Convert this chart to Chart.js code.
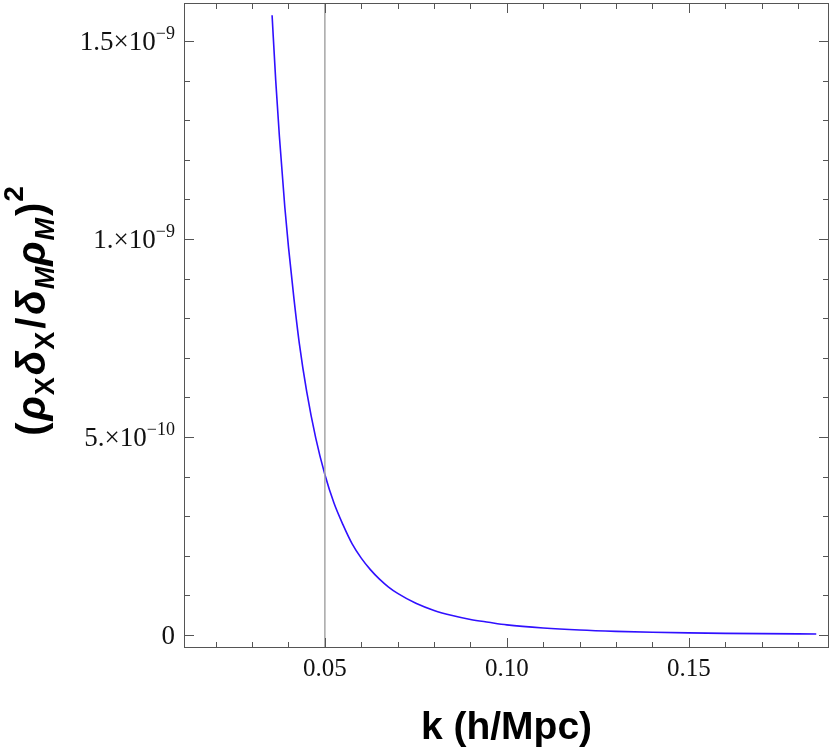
<!DOCTYPE html>
<html>
<head>
<meta charset="utf-8">
<script src="https://cdn.jsdelivr.net/npm/chart.js@4.4.1/dist/chart.umd.min.js"></script>
<style>
  html, body { margin: 0; padding: 0; background: #fff; }
  #wrap { width: 830px; height: 754px; position: relative; }
</style>
</head>
<body>
<div id="wrap"><canvas id="chart"></canvas></div>
<script>
// values
const kValues = [0.0355, 0.0365, 0.0375, 0.039, 0.040, 0.0415, 0.043, 0.045, 0.0475, 0.050,
                 0.0525, 0.055, 0.0575, 0.060, 0.0625, 0.065, 0.0675, 0.070, 0.075, 0.080,
                 0.085, 0.090, 0.095, 0.100, 0.110, 0.120, 0.130, 0.140, 0.150, 0.160,
                 0.170, 0.185];
const ratioValues = [15.65e-10, 14.0e-10, 12.6e-10, 10.8e-10, 9.8e-10, 8.5e-10, 7.35e-10, 6.15e-10, 4.97e-10, 4.05e-10,
                     3.33e-10, 2.78e-10, 2.30e-10, 1.94e-10, 1.65e-10, 1.41e-10, 1.21e-10, 1.05e-10, 0.80e-10, 0.62e-10,
                     0.49e-10, 0.39e-10, 0.32e-10, 0.255e-10, 0.175e-10, 0.123e-10, 0.090e-10, 0.068e-10, 0.052e-10, 0.040e-10,
                     0.032e-10, 0.023e-10];

const markerK = 0.05;

const xMajorTicks = [0.05, 0.10, 0.15];
const xTickLabels = ['0.05', '0.10', '0.15'];
const xMinorTicks = [0.02, 0.03, 0.04, 0.06, 0.07, 0.08, 0.09, 0.11, 0.12, 0.13, 0.14, 0.16, 0.17, 0.18];

const yMajorTicks = [0, 5e-10, 1e-9, 1.5e-9];
const yTickMantissa = ['0', '5.', '1.', '1.5'];
const yTickExponent = ['', '\u221210', '\u22129', '\u22129'];
const yMinorTicks = [1e-10, 2e-10, 3e-10, 4e-10, 6e-10, 7e-10, 8e-10, 9e-10, 1.1e-9, 1.2e-9, 1.3e-9, 1.4e-9];

const xMin = 0.0113, xMax = 0.1885;
const yMin = -0.33e-10, yMax = 1.596e-9;

const serif = "'Liberation Serif', 'DejaVu Serif', serif";
const sans = "'Liberation Sans', Arial, sans-serif";

// frame, inward ticks, tick labels and axis titles
const framePlugin = {
    id: 'frame',
    afterDraw(chart) {
        const { ctx, chartArea: a, scales } = chart;
        const xs = scales.x, ys = scales.y;
        ctx.save();
        ctx.strokeStyle = '#555';
        ctx.lineWidth = 1;
        ctx.strokeRect(a.left + 0.5, a.top + 0.5, a.right - a.left - 1, a.bottom - a.top - 1);

        const tick = (x1, y1, x2, y2) => {
            ctx.beginPath();
            ctx.moveTo(x1, y1);
            ctx.lineTo(x2, y2);
            ctx.stroke();
        };
        xMajorTicks.forEach(v => {
            const px = Math.round(xs.getPixelForValue(v)) + 0.5;
            tick(px, a.bottom, px, a.bottom - 10);
            tick(px, a.top, px, a.top + 10);
        });
        xMinorTicks.forEach(v => {
            const px = Math.round(xs.getPixelForValue(v)) + 0.5;
            tick(px, a.bottom, px, a.bottom - 6);
            tick(px, a.top, px, a.top + 6);
        });
        yMajorTicks.forEach(v => {
            const py = Math.round(ys.getPixelForValue(v)) + 0.5;
            tick(a.left, py, a.left + 10, py);
            tick(a.right, py, a.right - 10, py);
        });
        yMinorTicks.forEach(v => {
            const py = Math.round(ys.getPixelForValue(v)) + 0.5;
            tick(a.left, py, a.left + 6, py);
            tick(a.right, py, a.right - 6, py);
        });

        // x tick labels
        ctx.fillStyle = '#111';
        ctx.font = `25px ${serif}`;
        ctx.textAlign = 'center';
        ctx.textBaseline = 'alphabetic';
        xMajorTicks.forEach((v, i) => {
            ctx.fillText(xTickLabels[i], xs.getPixelForValue(v), a.bottom + 28);
        });

        // y tick labels  m×10^e
        yMajorTicks.forEach((v, i) => {
            const py = ys.getPixelForValue(v);
            const right = a.left - 9;
            ctx.textAlign = 'left';
            if (!yTickExponent[i]) {
                ctx.font = `27px ${serif}`;
                const w = ctx.measureText(yTickMantissa[i]).width;
                ctx.fillText(yTickMantissa[i], right - w, py + 9);
                return;
            }
            const main = yTickMantissa[i] + '\u00d710';
            ctx.font = `27px ${serif}`;
            const wMain = ctx.measureText(main).width;
            ctx.font = `18px ${serif}`;
            const wSup = ctx.measureText(yTickExponent[i]).width;
            const x0 = right - wMain - wSup;
            ctx.font = `27px ${serif}`;
            ctx.fillText(main, x0, py + 9);
            ctx.font = `18px ${serif}`;
            ctx.fillText(yTickExponent[i], x0 + wMain, py - 2);
        });

        // x axis title
        ctx.fillStyle = '#000';
        ctx.font = `bold 39px ${sans}`;
        ctx.textAlign = 'center';
        ctx.fillText('k (h/Mpc)', (a.left + a.right) / 2, 739);

        // y axis title, rotated
        const parts = [
            { t: '(', f: `bold 40px ${sans}`, dy: 0, sp: 2 },
            { t: '\u03c1', f: `italic bold 40px ${sans}`, dy: 0, sp: 1 },
            { t: 'X', f: `bold 27px ${sans}`, dy: 9, sp: 2 },
            { t: '\u03b4', f: `italic bold 40px ${sans}`, dy: 0, sp: 1 },
            { t: 'X', f: `bold 27px ${sans}`, dy: 9, sp: 3 },
            { t: '/', f: `bold 40px ${sans}`, dy: 0, sp: 3 },
            { t: '\u03b4', f: `italic bold 40px ${sans}`, dy: 0, sp: 1 },
            { t: 'M', f: `italic bold 27px ${sans}`, dy: 9, sp: 1 },
            { t: '\u03c1', f: `italic bold 40px ${sans}`, dy: 0, sp: 1 },
            { t: 'M', f: `italic bold 27px ${sans}`, dy: 9, sp: 2 },
            { t: ')', f: `bold 40px ${sans}`, dy: 0, sp: 1 },
            { t: '2', f: `bold 28px ${sans}`, dy: -22, sp: 0 }
        ];
        let total = 0;
        parts.forEach(p => { ctx.font = p.f; p.w = ctx.measureText(p.t).width + p.sp; total += p.w; });
        ctx.translate(45, 311);
        ctx.rotate(-Math.PI / 2);
        ctx.textAlign = 'left';
        let cx = -total / 2;
        parts.forEach(p => {
            ctx.font = p.f;
            ctx.fillText(p.t, cx, p.dy);
            cx += p.w;
        });
        ctx.restore();
    }
};

new Chart(document.getElementById('chart'), {
    type: 'line',
    data: {
        datasets: [
            {
                label: 'k = 0.05',
                data: [{ x: markerK, y: yMin }, { x: markerK, y: yMax }],
                borderColor: '#a6a6a6',
                borderWidth: 1.5,
                pointRadius: 0
            },
            {
                label: 'ratio',
                data: kValues.map((k, i) => ({ x: k, y: ratioValues[i] })),
                borderColor: '#3010ff',
                borderWidth: 1.6,
                pointRadius: 0,
                cubicInterpolationMode: 'monotone'
            }
        ]
    },
    options: {
        responsive: true,
        maintainAspectRatio: false,
        animation: false,
        layout: { padding: { left: 184, right: 1, top: 3, bottom: 106 } },
        scales: {
            x: { type: 'linear', min: xMin, max: xMax, display: false },
            y: { type: 'linear', min: yMin, max: yMax, display: false }
        },
        plugins: { legend: { display: false }, tooltip: { enabled: false } }
    },
    plugins: [framePlugin]
});
</script>
</body>
</html>
